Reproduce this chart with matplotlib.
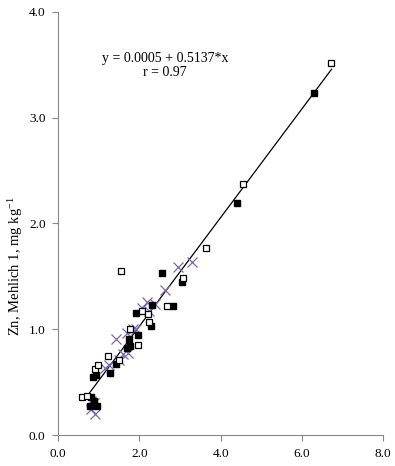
import numpy as np
import matplotlib.pyplot as plt

plt.rcParams["font.family"] = ["Liberation Serif", "DejaVu Serif"]
plt.rcParams["mathtext.fontset"] = "custom"
plt.rcParams["mathtext.rm"] = "Liberation Serif"

# open squares
x_open = [0.60, 0.70, 0.91, 0.99, 1.22, 1.49, 1.55, 1.78, 1.96, 2.06, 2.25, 2.22, 2.68, 3.07, 3.64, 4.56, 6.71]
y_open = [0.36, 0.37, 0.62, 0.66, 0.75, 0.71, 1.55, 1.00, 0.85, 1.17, 1.07, 1.14, 1.22, 1.48, 1.77, 2.37, 3.52]

# filled squares
x_fill = [0.78, 0.82, 0.89, 0.97, 0.86, 0.93, 1.29, 1.42, 1.69, 1.77, 1.74, 1.96, 1.93, 2.29, 2.30, 2.57, 2.82, 3.05, 4.41, 6.30]
y_fill = [0.27, 0.36, 0.32, 0.27, 0.55, 0.57, 0.59, 0.67, 0.82, 0.84, 0.91, 0.95, 1.15, 1.03, 1.23, 1.53, 1.22, 1.45, 2.19, 3.23]

# crosses
x_cross = [0.81, 0.82, 0.88, 0.90, 1.15, 1.26, 1.50, 1.60, 1.73, 1.42, 1.69, 1.85, 1.93, 2.06, 2.18, 2.24, 2.38, 2.63, 2.96, 3.29]
y_cross = [0.25, 0.32, 0.30, 0.20, 0.63, 0.66, 0.71, 0.77, 0.78, 0.91, 0.96, 1.00, 1.00, 1.20, 1.26, 1.17, 1.24, 1.37, 1.59, 1.64]

intercept = 0.0005
slope = 0.5137
line_x = [0.74, 6.73]

xticks = [0, 2, 4, 6, 8]
yticks = [0, 1, 2, 3, 4]

fig = plt.figure(figsize=(3.95, 4.66), dpi=100)
ax = fig.add_axes([0.147, 0.0665, 0.823, 0.908])

lx = np.array(line_x)
ax.plot(lx, intercept + slope * lx, color="black", lw=0.9, zorder=2)

ax.plot(x_cross, y_cross, "x", color="#7d68b3", ms=6.5, mew=0.9, zorder=3)
ax.plot(x_fill, y_fill, "s", color="black", ms=5, zorder=4)
ax.plot(x_open, y_open, "s", mfc="white", mec="black", ms=5, mew=0.9, zorder=5)

ax.text(2.63, 3.56, "y = 0.0005 + 0.5137*x", ha="center", va="center", fontsize=10)
ax.text(2.63, 3.43, "r = 0.97", ha="center", va="center", fontsize=10)

ax.set_xlim(0, 8)
ax.set_ylim(0, 4)
ax.set_xticks(xticks)
ax.set_yticks(yticks)
ax.set_xticklabels([f"{v:.1f}" for v in xticks])
ax.set_yticklabels([f"{v:.1f}" for v in yticks])
ax.set_ylabel(r"Zn, Mehlich 1, mg kg$\mathregular{^{-1}}$", fontsize=10.5, va="center")
ax.yaxis.set_label_coords(-0.13, 0.40)

for side in ["top", "right"]:
    ax.spines[side].set_visible(False)
for side in ["left", "bottom"]:
    ax.spines[side].set_color("#888888")
    ax.spines[side].set_linewidth(0.8)
ax.tick_params(direction="out", length=4, color="#888888", labelsize=9.5, pad=5)

fig.savefig("out.png", dpi=100)
